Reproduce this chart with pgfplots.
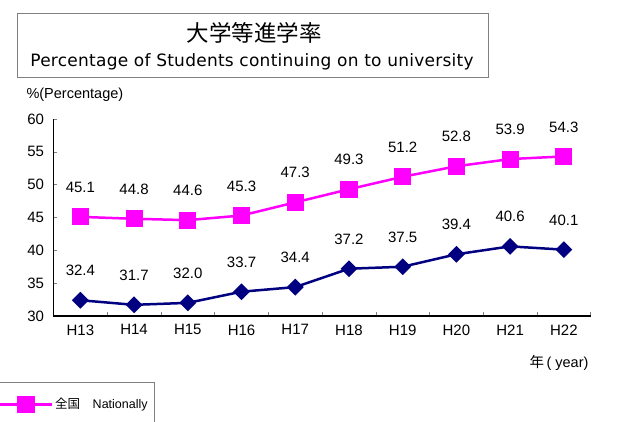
\documentclass[border=0pt]{standalone}
\usepackage{pgfplots}
\pgfplotsset{compat=1.18}
\usepackage{fontspec}
\setmainfont{Liberation Sans}
\newfontfamily\jp{Noto Sans CJK JP}
\newfontfamily\titlefont[LetterSpace=1.5]{DejaVu Sans}
\definecolor{Pink}{HTML}{FF00FF}
\definecolor{Navy}{HTML}{000080}

\pgfplotstableread{
x nat
0 45.1
1 44.8
2 44.6
3 45.3
4 47.3
5 49.3
6 51.2
7 52.8
8 53.9
9 54.3
}\nationally
\pgfplotstableread{
x loc
0 32.4
1 31.7
2 32.0
3 33.7
4 34.4
5 37.2
6 37.5
7 39.4
8 40.6
9 40.1
}\local

\begin{document}
\begin{tikzpicture}
% title box
\draw[gray, line width=0.8pt] (17.3pt,408.7pt) rectangle (488pt,344.3pt);
\node[anchor=base, inner sep=0pt] at (254pt,380.5pt) {\jp\fontsize{22.5}{24}\selectfont 大学等進学率};
\node[anchor=base, inner sep=0pt] at (252pt,355pt) {\titlefont\fontsize{17}{20}\selectfont Percentage of Students continuing on to university};

\begin{axis}[
  at={(53.5pt,106pt)}, anchor=south west,
  scale only axis, width=537.2pt, height=197pt,
  xmin=-0.5, xmax=9.5, ymin=30, ymax=60,
  axis x line=bottom, axis y line=left,
  axis line style={-, line width=1.2pt},
  xtick={0,...,9},
  xticklabels={H13,H14,H15,H16,H17,H18,H19,H20,H21,H22},
  major x tick style={draw=none},
  minor xtick={-0.5,0.5,...,9.5},
  ytick={30,35,...,60},
  tick align=inside,
  major tick length=4pt, minor tick length=4pt,
  tick style={gray, line width=0.6pt},
  /pgf/number format/assume math mode=true,
  ticklabel style={font=\fontsize{15}{17}\selectfont},
  yticklabel style={xshift=-6pt},
  xticklabel style={yshift=-5pt},
  every axis y label/.style={at={(-0.0568,1.122)}, anchor=west, font=\fontsize{14.5}{16}\selectfont},
  every axis x label/.style={at={(1.0024,-0.239)}, anchor=east, font=\fontsize{14.5}{16}\selectfont},
  ylabel={\%(Percentage)},
  xlabel={{\jp 年}\,( year)},
  nodes near coords={\pgfmathprintnumber[fixed,fixed zerofill,precision=1]{\pgfplotspointmeta}},
  every node near coord/.append style={font=\fontsize{15}{17}\selectfont, inner sep=0pt, yshift=23pt, black},
  legend style={at={(0.189,-0.335)}, anchor=north east, draw=gray, line width=0.8pt,
    inner ysep=14pt, inner xsep=5pt, font=\fontsize{12.5}{14}\selectfont},
  legend image code/.code={\draw[#1,mark repeat=2,mark phase=2] plot coordinates {(0pt,0pt) (34pt,0pt) (60pt,0pt)};},
  clip=false,
]
\addplot[Pink, line width=2.5pt, mark=square*, mark size=7.3pt, mark options={solid}] table[x=x, y=nat] {\nationally};
\addlegendentry{{\jp 全国}\quad Nationally}
\addplot[Navy, line width=2.5pt, mark=square*, mark size=4.7pt, mark options={solid, rotate=45}] table[x=x, y=loc] {\local};
\end{axis}
\pgfresetboundingbox
\path (0pt,0pt) rectangle (622pt,422pt);
\end{tikzpicture}
\end{document}
